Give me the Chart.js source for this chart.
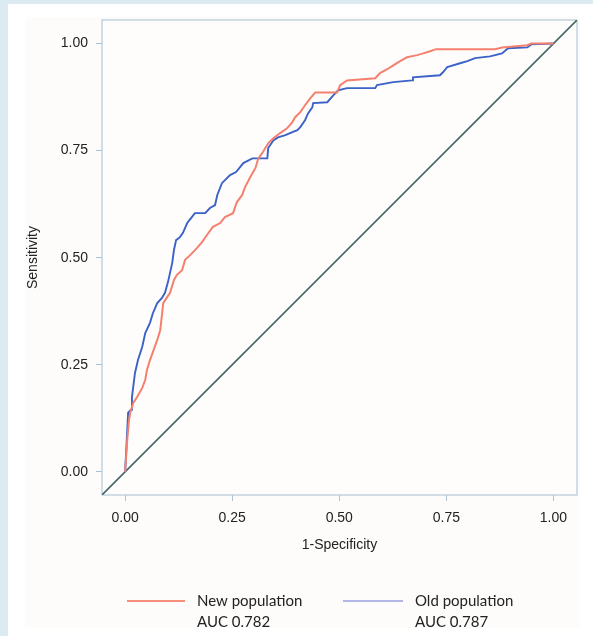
<!DOCTYPE html>
<html>
<head>
<meta charset="utf-8">
<script src="https://cdn.jsdelivr.net/npm/chart.js@4.4.0/dist/chart.umd.min.js"></script>
<style>
  html, body { margin: 0; padding: 0; background: #dcebf1; }
  #wrap { position: relative; width: 593px; height: 636px; }
</style>
</head>
<body>
<div id="wrap"><canvas id="roc" width="593" height="636"></canvas></div>
<script>
// ROC data (1-specificity, sensitivity)
var newPopFpr = [0, 0.005, 0.009, 0.012, 0.019, 0.028, 0.040, 0.047, 0.051, 0.058, 0.075, 0.082, 0.089, 0.098, 0.105,
  0.114, 0.121, 0.133, 0.140, 0.152, 0.168, 0.180, 0.191, 0.205, 0.222, 0.233, 0.252, 0.261, 0.273, 0.280, 0.292,
  0.304, 0.311, 0.320, 0.334, 0.346, 0.362, 0.378, 0.390, 0.397, 0.409, 0.420, 0.432, 0.444, 0.495, 0.502, 0.518,
  0.584, 0.595, 0.612, 0.626, 0.642, 0.658, 0.682, 0.696, 0.712, 0.726, 0.864, 0.880, 0.939, 0.948, 1];
var newPopTpr = [0, 0.075, 0.121, 0.138, 0.161, 0.175, 0.196, 0.215, 0.238, 0.261, 0.308, 0.331, 0.394, 0.408, 0.418,
  0.448, 0.460, 0.471, 0.495, 0.506, 0.523, 0.537, 0.553, 0.572, 0.581, 0.595, 0.604, 0.630, 0.646, 0.665, 0.688,
  0.709, 0.732, 0.744, 0.767, 0.779, 0.791, 0.802, 0.816, 0.828, 0.840, 0.856, 0.872, 0.886, 0.886, 0.903, 0.914,
  0.919, 0.931, 0.940, 0.949, 0.959, 0.968, 0.973, 0.977, 0.982, 0.987, 0.987, 0.991, 0.996, 1, 1];

var oldPopFpr = [0, 0.005, 0.007, 0.014, 0.016, 0.023, 0.030, 0.040, 0.047, 0.058, 0.065, 0.075, 0.086, 0.093, 0.100,
  0.110, 0.114, 0.119, 0.128, 0.135, 0.145, 0.152, 0.163, 0.187, 0.198, 0.210, 0.215, 0.226, 0.233, 0.245, 0.259,
  0.276, 0.297, 0.332, 0.334, 0.346, 0.357, 0.374, 0.385, 0.402, 0.409, 0.420, 0.427, 0.437, 0.439, 0.472, 0.486,
  0.497, 0.518, 0.584, 0.588, 0.626, 0.670, 0.672, 0.735, 0.742, 0.752, 0.782, 0.799, 0.817, 0.852, 0.880, 0.894,
  0.939, 0.948, 1];
var oldPopTpr = [0, 0.098, 0.138, 0.145, 0.175, 0.231, 0.261, 0.292, 0.324, 0.348, 0.371, 0.394, 0.406, 0.418, 0.443,
  0.488, 0.518, 0.541, 0.548, 0.558, 0.581, 0.590, 0.604, 0.604, 0.616, 0.623, 0.646, 0.674, 0.681, 0.693, 0.700,
  0.721, 0.732, 0.732, 0.756, 0.774, 0.781, 0.786, 0.791, 0.798, 0.805, 0.821, 0.837, 0.851, 0.861, 0.863, 0.879,
  0.891, 0.896, 0.896, 0.903, 0.910, 0.914, 0.921, 0.926, 0.933, 0.945, 0.954, 0.959, 0.966, 0.970, 0.977, 0.989,
  0.991, 0.998, 1];

var seriesNames = ["New population", "Old population"];
var aucLabels = ["AUC 0.782", "AUC 0.787"];
var tickValues = [0, 0.25, 0.5, 0.75, 1];
var axisMin = -0.054;
var axisMax = 1.055;
var refLine = [axisMin, axisMax]; // chance line y = x

function toPoints(xs, ys) {
  var pts = [];
  for (var i = 0; i < xs.length; i++) pts.push({x: xs[i], y: ys[i]});
  return pts;
}

var bgPlugin = {
  id: 'bg',
  beforeDraw: function(chart) {
    var ctx = chart.ctx;
    ctx.save();
    ctx.fillStyle = '#dcebf1';
    ctx.fillRect(0, 0, chart.width, chart.height);
    ctx.fillStyle = '#ffffff';
    ctx.fillRect(8, 4, chart.width - 8, chart.height - 4);
    ctx.fillStyle = '#fdfcfb';
    ctx.fillRect(25, 17, 555, 611);
    ctx.restore();
  },
  beforeDatasetsDraw: function(chart) {
    var a = chart.chartArea, ctx = chart.ctx;
    ctx.save();
    ctx.fillStyle = '#fffdfc';
    ctx.fillRect(a.left, a.top, a.right - a.left, a.bottom - a.top);
    ctx.strokeStyle = '#b4c8d6';
    ctx.lineWidth = 1.2;
    ctx.strokeRect(a.left, a.top, a.right - a.left, a.bottom - a.top);
    ctx.restore();
  }
};

// two-line legend under the plot
var legendPlugin = {
  id: 'rocLegend',
  afterDraw: function(chart) {
    var ctx = chart.ctx;
    var spots = [{x0: 127, x1: 185, tx: 197}, {x0: 343, x1: 403, tx: 415}];
    var lineCols = ['#f58f7c', '#6a6fd2'];
    var widths = [2, 1.2];
    ctx.save();
    for (var i = 0; i < 2; i++) {
      ctx.strokeStyle = lineCols[i];
      ctx.lineWidth = widths[i];
      ctx.beginPath();
      ctx.moveTo(spots[i].x0, 601);
      ctx.lineTo(spots[i].x1, 601);
      ctx.stroke();
      ctx.fillStyle = '#222';
      ctx.font = '15px Lato';
      ctx.textBaseline = 'middle';
      ctx.textAlign = 'left';
      ctx.fillText(seriesNames[i], spots[i].tx, 601);
      ctx.fillText(aucLabels[i], spots[i].tx, 622);
    }
    ctx.restore();
  }
};

function setTicks(scale) {
  scale.ticks = tickValues.map(function(v) { return {value: v}; });
}

new Chart(document.getElementById("roc"), {
  type: 'line',
  data: {
    datasets: [{
      label: seriesNames[0],
      data: toPoints(newPopFpr, newPopTpr),
      borderColor: '#f4806e',
      borderWidth: 2,
      pointRadius: 0
    }, {
      label: seriesNames[1],
      data: toPoints(oldPopFpr, oldPopTpr),
      borderColor: '#3a62c8',
      borderWidth: 1.9,
      pointRadius: 0
    }, {
      label: 'reference',
      data: toPoints(refLine, refLine),
      borderColor: '#46686a',
      borderWidth: 1.6,
      pointRadius: 0
    }]
  },
  options: {
    responsive: false,
    animation: false,
    layout: { padding: { left: 0, top: 20, right: 16, bottom: 0 } },
    plugins: { legend: { display: false }, tooltip: { enabled: false } },
    scales: {
      x: {
        type: 'linear',
        min: axisMin,
        max: axisMax,
        afterBuildTicks: setTicks,
        afterFit: function(s) { s.height = 141; },
        grid: { drawOnChartArea: false, drawTicks: true, tickLength: 6, color: '#a9c3d5' },
        border: { display: false },
        ticks: {
          padding: 9,
          color: '#222',
          font: { family: 'Liberation Sans', size: 14 },
          callback: function(v) { return v.toFixed(2); }
        },
        title: {
          display: true,
          text: '1-Specificity',
          color: '#222',
          font: { family: 'Liberation Sans', size: 14 },
          padding: { top: 0, bottom: 82 }
        }
      },
      y: {
        type: 'linear',
        min: axisMin,
        max: axisMax,
        afterBuildTicks: setTicks,
        afterFit: function(s) { s.width = 102; },
        grid: { drawOnChartArea: false, drawTicks: true, tickLength: 6, color: '#a9c3d5' },
        border: { display: false },
        ticks: {
          padding: 8,
          color: '#222',
          font: { family: 'Liberation Sans', size: 14 },
          callback: function(v) { return v.toFixed(2); }
        },
        title: {
          display: true,
          text: 'Sensitivity',
          color: '#222',
          font: { family: 'Liberation Sans', size: 14 },
          padding: { top: 25, bottom: 0 }
        }
      }
    }
  },
  plugins: [bgPlugin, legendPlugin]
});
</script>
</body>
</html>
